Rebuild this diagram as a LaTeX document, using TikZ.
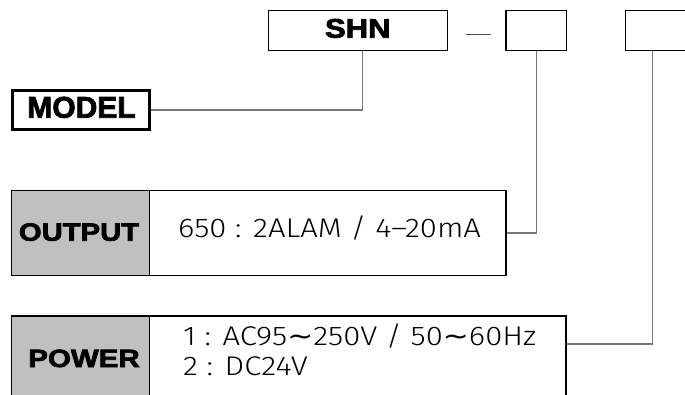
\documentclass[tikz,border=0pt]{standalone}
\usepackage{fontspec}
\setmainfont{Liberation Sans}
\newfontfamily\heavy[FakeBold=2.5]{Liberation Sans Bold}
\newfontfamily\lightf{Fira Sans Light}
\newfontfamily\symf{DejaVu Sans}
\usetikzlibrary{calc}
\definecolor{cellgrey}{HTML}{C0C0C0}
\definecolor{conngrey}{HTML}{777777}
\newcommand{\thinline}[1]{\scalebox{1.15}[1]{#1}}
\begin{document}
\begin{tikzpicture}[x=1pt,y=-1pt,
  codebox/.style={draw=black,line width=1.3pt,rectangle,inner sep=0pt,minimum height=40pt},
  keycell/.style={draw=black,line width=1.3pt,fill=cellgrey,rectangle,inner sep=0pt,minimum width=138.4pt},
  valcell/.style={draw=black,line width=1.3pt,fill=white,rectangle,inner sep=0pt},
  conn/.style={draw=conngrey,line width=1.5pt},
  boldtxt/.style={inner sep=0pt,font=\heavy},
  thintxt/.style={inner sep=0pt,anchor=base west,font=\lightf\fontsize{27}{30}\selectfont}]
\useasboundingbox (0,0) rectangle (685,394);
% top code boxes
\node[codebox,minimum width=179.4pt] (shn) at (358,30.3) {};
\node[boldtxt,anchor=base] (shnt) at (357.8,37.7) {\fontsize{27}{27}\selectfont\scalebox{1.15}[1]{SHN}};
\draw[draw=black!70,line width=1.5pt] (465.7,34.7) -- (490.7,34.7);
\node[codebox,minimum width=60.7pt] (b2) at (536.35,30.3) {};
\node[codebox,minimum width=64.7pt] (b3) at (657.65,30.3) {};
% model
\node[draw=black,line width=3pt,rectangle,inner sep=0pt,minimum width=137pt,minimum height=39pt] (model) at (80.7,110.2) {};
\node[boldtxt,anchor=base] (modelt) at (81.5,117.7) {\fontsize{30}{30}\selectfont MODEL};
% output table
\node[keycell,minimum height=85.4pt] (outk) at (80.5,233) {};
\node[valcell,minimum width=356.3pt,minimum height=85.4pt] (outv) at (327.85,233) {};
\node[boldtxt,anchor=base] (outkt) at (79,240.7) {\fontsize{25}{25}\selectfont\scalebox{1.17}[1]{OUTPUT}};
\node[thintxt] (outvt) at (178,237.7) {\thinline{650 : 2ALAM / 4–20mA}};
% power table
\node[keycell,minimum height=84pt] (powk) at (80.5,358) {};
\node[valcell,minimum width=416.3pt,minimum height=84pt] (powv) at (357.85,358) {};
\node[boldtxt,anchor=base] (powkt) at (84,367) {\fontsize{25}{25}\selectfont\scalebox{1.18}[1]{POWER}};
\node[thintxt] (powv1) at (183,345) {\thinline{1 : AC95{\symf ∼}250V / 50{\symf ∼}60Hz}};
\node[thintxt] (powv2) at (183,375) {\thinline{2 : DC24V}};
% connectors
\coordinate (shnfoot) at ($(shn.south west)+(95,0)$);
\coordinate (b3foot) at ($(b3.south west)+(28,0)$);
\coordinate (powin) at ($(powv.north east)+(0,28.7)$);
\draw[conn] (shnfoot) |- (model.east);
\draw[conn] (b2.south) |- (outv.east);
\draw[conn] (b3foot) |- (powin);
\end{tikzpicture}
\end{document}
